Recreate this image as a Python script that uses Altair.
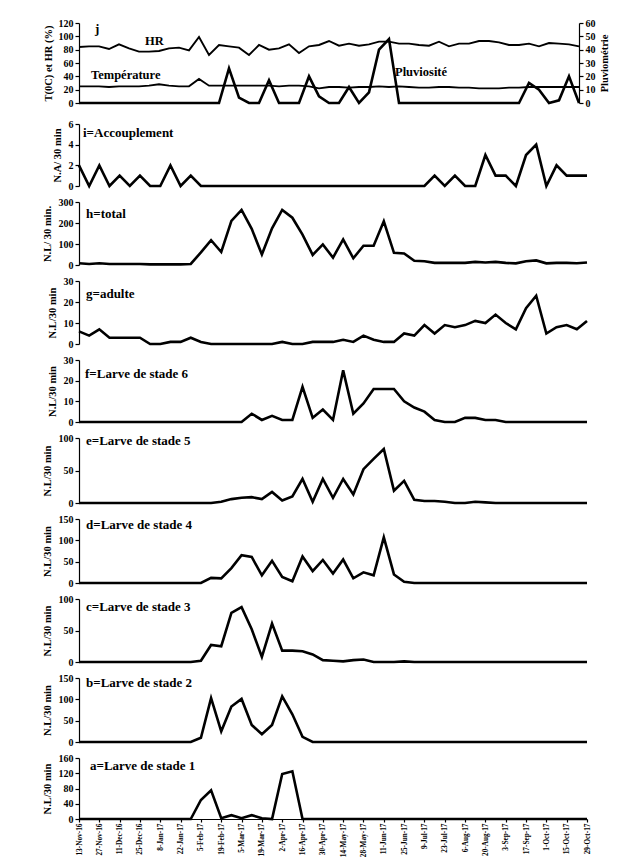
import altair as alt
import pandas as pd

FONT = "Liberation Serif"

# Weekly sampling dates, 13 Nov 2016 -> 29 Oct 2017
dates = pd.date_range("2016-11-13", periods=51, freq="7D")
tick_dates = pd.date_range("2016-11-13", "2017-10-29", freq="14D")

# Climate
hr = [84, 85, 85, 81, 88, 82, 77, 77, 78, 82,
      83, 79, 99, 72, 87, 85, 83, 72, 87, 80,
      82, 88, 75, 85, 87, 93, 86, 89, 86, 88,
      92, 92, 89, 89, 87, 86, 92, 85, 89, 89,
      93, 93, 91, 87, 87, 89, 85, 90, 89, 88,
      85]
temperature = [25, 25, 25, 24, 25, 25, 25, 26, 28, 26,
               25, 25, 36, 26, 26, 26, 26, 26, 26, 26,
               25, 26, 26, 25, 22, 24, 24, 23, 24, 24,
               25, 24, 25, 24, 23, 23, 24, 24, 23, 23,
               22, 22, 22, 23, 23, 24, 24, 24, 24, 24,
               24]
rain = [0, 0, 0, 0, 0, 0, 0, 0, 0, 0,
        0, 0, 0, 0, 0, 26, 4, 0, 0, 17,
        0, 0, 0, 20, 5, 0, 0, 12, 0, 8,
        40, 48, 0, 0, 0, 0, 0, 0, 0, 0,
        0, 0, 0, 0, 0, 15, 10, 0, 2, 20,
        0]

# Counts per 30 min
mating = [2, 0, 2, 0, 1, 0, 1, 0, 0, 2,
          0, 1, 0, 0, 0, 0, 0, 0, 0, 0,
          0, 0, 0, 0, 0, 0, 0, 0, 0, 0,
          0, 0, 0, 0, 0, 1, 0, 1, 0, 0,
          3, 1, 1, 0, 3, 4, 0, 2, 1, 1,
          1]
total = [8, 5, 8, 5, 5, 5, 5, 3, 3, 3,
         3, 5, 60, 118, 62, 210, 262, 172, 50, 175,
         262, 225, 145, 48, 98, 35, 122, 32, 92, 92,
         208, 58, 55, 20, 18, 10, 10, 10, 10, 15,
         12, 15, 10, 8, 18, 22, 8, 10, 10, 8,
         12]
adult = [6, 4, 7, 3, 3, 3, 3, 0, 0, 1,
         1, 3, 1, 0, 0, 0, 0, 0, 0, 0,
         1, 0, 0, 1, 1, 1, 2, 1, 4, 2,
         1, 1, 5, 4, 9, 5, 9, 8, 9, 11,
         10, 14, 10, 7, 17, 23, 5, 8, 9, 7,
         11]
stage6 = [0, 0, 0, 0, 0, 0, 0, 0, 0, 0,
          0, 0, 0, 0, 0, 0, 0, 4, 1, 3,
          1, 1, 17, 2, 6, 1, 25, 4, 9, 16,
          16, 16, 10, 7, 5, 1, 0, 0, 2, 2,
          1, 1, 0, 0, 0, 0, 0, 0, 0, 0,
          0]
stage5 = [0, 0, 0, 0, 0, 0, 0, 0, 0, 0,
          0, 0, 0, 0, 2, 6, 8, 9, 6, 17,
          4, 10, 37, 2, 37, 8, 37, 13, 52, 68,
          83, 19, 34, 5, 3, 3, 2, 0, 0, 2,
          1, 0, 0, 0, 0, 0, 0, 0, 0, 0,
          0]
stage4 = [0, 0, 0, 0, 0, 0, 0, 0, 0, 0,
          0, 0, 0, 12, 11, 35, 65, 61, 18, 52,
          14, 4, 62, 28, 54, 22, 55, 11, 25, 18,
          107, 20, 3, 0, 0, 0, 0, 0, 0, 0,
          0, 0, 0, 0, 0, 0, 0, 0, 0, 0,
          0]
stage3 = [0, 0, 0, 0, 0, 0, 0, 0, 0, 0,
          0, 0, 2, 27, 25, 78, 87, 52, 8, 61,
          18, 18, 17, 12, 3, 2, 1, 3, 4, 0,
          0, 0, 1, 0, 0, 0, 0, 0, 0, 0,
          0, 0, 0, 0, 0, 0, 0, 0, 0, 0,
          0]
stage2 = [0, 0, 0, 0, 0, 0, 0, 0, 0, 0,
          0, 0, 10, 103, 25, 83, 101, 40, 18, 40,
          107, 65, 12, 0, 0, 0, 0, 0, 0, 0,
          0, 0, 0, 0, 0, 0, 0, 0, 0, 0,
          0, 0, 0, 0, 0, 0, 0, 0, 0, 0,
          0]
stage1 = [0, 0, 0, 0, 0, 0, 0, 0, 0, 0,
          0, 0, 50, 75, 2, 10, 2, 10, 2, 0,
          118, 125, 0, 0, 0, 0, 0, 0, 0, 0,
          0, 0, 0, 0, 0, 0, 0, 0, 0, 0,
          0, 0, 0, 0, 0, 0, 0, 0, 0, 0,
          0]

W = 508
LW = 2.6


def dt(ts):
    return alt.DateTime(year=ts.year, month=ts.month, date=ts.day)


x_scale = alt.Scale(domain=[dt(dates[0]), dt(dates[-1])])
x_axis = alt.Axis(values=[dt(t) for t in tick_dates], format="%-d-%b-%y",
                  labelAngle=-90, labelFontSize=7.3, labelPadding=1,
                  tickSize=3, title=None, labelOverlap=False)


def label(text, x, y, size=13, align="left"):
    return alt.Chart(pd.DataFrame({"t": [text]})).mark_text(
        font=FONT, fontWeight="bold", fontSize=size, align=align,
        baseline="middle", color="black"
    ).encode(text="t:N", x=alt.value(x), y=alt.value(y))


def panel(values, name, title, ymax, ystep, height, label_x, label_y,
          bottom=False):
    df = pd.DataFrame({"date": dates, "value": values})
    line = alt.Chart(df).mark_line(color="black", strokeWidth=LW).encode(
        x=alt.X("date:T", scale=x_scale, axis=x_axis if bottom else None),
        y=alt.Y("value:Q", scale=alt.Scale(domain=[0, ymax], nice=False),
                axis=alt.Axis(values=list(range(0, ymax + 1, ystep)),
                              title=title, titlePadding=6)),
    )
    return alt.layer(line, label(name, label_x, label_y)).properties(
        width=W, height=height)


# Panel j: humidity and temperature (left axis), rainfall (right axis)
clim = pd.DataFrame({
    "date": list(dates) * 2,
    "value": hr + temperature,
    "serie": ["HR"] * len(hr) + ["Température"] * len(temperature),
})
clim_line = alt.Chart(clim).mark_line(color="black", strokeWidth=1.9).encode(
    x=alt.X("date:T", scale=x_scale, axis=None),
    y=alt.Y("value:Q", scale=alt.Scale(domain=[0, 120], nice=False),
            axis=alt.Axis(values=list(range(0, 121, 20)),
                          title="T(0C)  et HR (%)", titlePadding=5)),
    detail="serie:N",
)
rain_df = pd.DataFrame({"date": dates, "value": rain})
rain_line = alt.Chart(rain_df).mark_line(color="black", strokeWidth=LW).encode(
    x=alt.X("date:T", scale=x_scale, axis=None),
    y=alt.Y("value:Q", scale=alt.Scale(domain=[0, 60], nice=False),
            axis=alt.Axis(values=list(range(0, 61, 10)), orient="right",
                          title="Pluviométrie", titleAngle=270,
                          titleBaseline="top", titlePadding=4)),
)
panel_j = alt.layer(
    clim_line, rain_line,
    label("j", 16, 6, size=13),
    label("HR", 66, 18, size=12.5),
    label("Température", 12, 52, size=12.5),
    label("Pluviosité", 316, 49, size=12.5),
).resolve_scale(y="independent").properties(width=500, height=80)

insect_panels = alt.vconcat(
    panel(mating, "i=Accouplement", "N.A/ 30 min", 6, 2, 62, 4, 9),
    panel(total, "h=total", "N.L/ 30 min.", 300, 100, 63, 7, 12),
    panel(adult, "g=adulte", "N.L/30  min", 30, 10, 63, 7, 13),
    panel(stage6, "f=Larve de stade 6", "N.L/30 min", 30, 10, 62, 6, 14),
    panel(stage5, "e=Larve  de stade 5", "N.L/30 min", 100, 50, 65, 7, 3),
    panel(stage4, "d=Larve  de stade 4", "N.L/30 min", 150, 50, 64, 7, 6),
    panel(stage3, "c=Larve  de stade 3", "N.L/30 min", 100, 50, 63, 7, 8),
    panel(stage2, "b=Larve  de stade 2", "N.L/30 min", 150, 50, 64, 7, 5),
    panel(stage1, "a=Larve  de stade 1", "N.L/30 min", 160, 40, 61, 11, 8,
          bottom=True),
    spacing=16, bounds="flush",
).resolve_scale(x="independent")

chart = alt.vconcat(panel_j, insect_panels, spacing=21, bounds="flush").resolve_scale(
    x="independent"
).properties(
    padding={"left": 42, "top": 18, "right": 5, "bottom": 0},
    background="white",
).configure_axis(
    labelFont=FONT, titleFont=FONT, labelFontWeight="bold",
    titleFontWeight="bold", labelColor="black", titleColor="black",
    domainColor="black", tickColor="black", grid=False,
    labelFontSize=10, titleFontSize=10.5, tickSize=4,
    domainWidth=1.2, tickWidth=1.2,
).configure_view(stroke=None)

chart.save("out.html", embed_options={"renderer": "svg", "actions": False})
